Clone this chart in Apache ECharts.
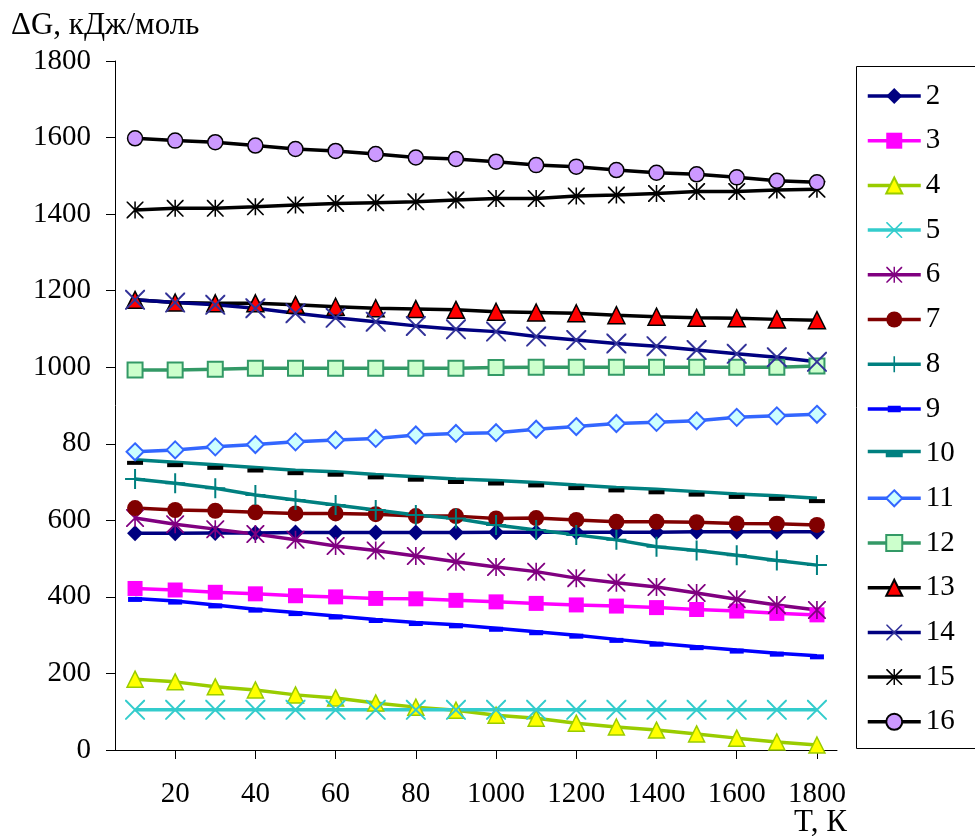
<!DOCTYPE html>
<html>
<head>
<meta charset="utf-8">
<script src="https://cdn.jsdelivr.net/npm/echarts@6/dist/echarts.min.js"></script>
<style>html,body{margin:0;padding:0;background:#fff}#c{width:975px;height:836px}</style>
</head>
<body>
<div id="c"></div>
<script>
// ---- data ----
var categories = [100,200,300,400,500,600,700,800,900,1000,1100,1200,1300,1400,1500,1600,1700,1800];
var xTickLabels = ['','20','','40','','60','','80','','1000','','1200','','1400','','1600','','1800'];
var yTickLabels = ['0','200','400','600','80','1000','1200','1400','1600','1800'];
var seriesNames = ['2','3','4','5','6','7','8','9','10','11','12','13','14','15','16'];

var s2  = [566,566,567,567,568,568,568,568,568,569,569,569,569,569,570,570,570,570];
var s3  = [422,418,412,408,403,400,396,395,391,387,383,379,376,372,367,363,357,353];
var s4  = [185,178,165,157,144,136,123,112,104,91,83,70,60,52,42,31,21,13];
var s5  = [105,105,105,105,105,105,105,105,105,105,105,105,105,105,105,105,105,105];
var s6  = [606,590,577,564,549,533,521,507,492,478,466,449,437,426,410,394,379,366];
var s7  = [632,627,625,621,618,618,616,611,611,605,606,601,596,596,595,592,591,588];
var s8  = [708,697,684,666,653,640,627,614,605,588,575,562,549,531,521,509,495,483];
var s9  = [396,389,379,368,359,350,341,333,327,318,309,300,289,279,270,261,253,246];
var s10 = [758,752,745,738,731,727,720,714,708,704,699,692,686,681,675,669,664,658];
var s11 = [779,784,792,798,805,810,814,823,827,829,838,845,853,856,860,869,873,877];
var s12 = [993,993,995,997,997,997,997,997,997,999,1000,1000,1000,1000,1000,1000,1000,1003];
var s13 = [1176,1169,1167,1167,1163,1158,1154,1152,1150,1145,1143,1141,1136,1132,1129,1128,1125,1123];
var s14 = [1176,1169,1163,1154,1141,1129,1119,1108,1099,1093,1080,1071,1062,1055,1045,1035,1026,1014];
var s15 = [1411,1415,1415,1419,1424,1428,1430,1432,1437,1441,1441,1447,1450,1454,1459,1459,1463,1465];
var s16 = [1598,1592,1588,1579,1570,1565,1557,1548,1544,1537,1528,1524,1515,1508,1504,1496,1487,1483];

// ---- styles ----
var FONT = '"Liberation Serif","Times New Roman",serif';
var FS = 29;
var FT = 31;
var LW = 3.5;
var XCROSS = 'path://M0,0L7,0L100,93L100,100L93,100L0,7Z M100,0L100,7L7,100L0,100L0,93L93,0Z';
var ASTER = 'path://M0,0L7,0L100,93L100,100L93,100L0,7Z M100,0L100,7L7,100L0,100L0,93L93,0Z M45.5,0L54.5,0L54.5,100L45.5,100Z';
var PLUS = 'path://M45,0L55,0L55,45L100,45L100,55L55,55L55,100L45,100L45,55L0,55L0,45L45,45Z';
var ICON9 = 'path://M0,1.5L53,1.5L53,5L0,5Z M20,0L33,0L33,6.5L20,6.5Z';
var ICON10 = 'path://M0,0L53,0L53,3.5L0,3.5Z M18,3L35,3L35,7.5L18,7.5Z';

function mk(name, data, line, sym, size, fill, border, bw, offset) {
  return {
    name: name, type: 'line', data: data,
    symbol: sym, symbolSize: size, symbolOffset: offset || [0,0],
    showSymbol: true,
    lineStyle: {color: line, width: LW},
    itemStyle: {color: fill, borderColor: border || fill, borderWidth: bw || 0},
    emphasis: {disabled: true},
    animation: false
  };
}

var series = [
  mk('2', s2, '#000080', 'diamond', 16, '#000080'),
  mk('3', s3, '#FF00FF', 'rect', 15, '#FF00FF'),
  mk('4', s4, '#99CC00', 'triangle', 16, '#FFFF00', '#99CC00', 1.5),
  mk('5', s5, '#33CCCC', XCROSS, 20, '#33CCCC'),
  mk('6', s6, '#800080', ASTER, 18, '#800080'),
  mk('7', s7, '#800000', 'circle', 16, '#800000'),
  mk('8', s8, '#008080', PLUS, 20, '#008080'),
  mk('9', s9, '#0000FF', 'rect', [14,5], '#0000FF', null, 0, [0,1]),
  mk('10', s10, '#008080', 'rect', [16,4], '#000000', null, 0, [0,3]),
  mk('11', s11, '#3366FF', 'diamond', 17, '#CCFFFF', '#3366FF', 2),
  mk('12', s12, '#339966', 'rect', 15, '#CCFFCC', '#339966', 2),
  mk('13', s13, '#000000', 'triangle', 17, '#FF0000', '#000000', 1.5),
  mk('14', s14, '#000080', XCROSS, 20, '#333399'),
  mk('15', s15, '#000000', ASTER, 17, '#000000'),
  mk('16', s16, '#000000', 'circle', 15, '#CC99FF', '#000000', 1.5)
];

var legendData = seriesNames.map(function (n) {
  if (n === '9') return {name: n, icon: ICON9};
  if (n === '10') return {name: n, icon: ICON10, itemStyle: {color: '#008080'}};
  return {name: n};
});

var chart = echarts.init(document.getElementById('c'), null, {renderer: 'canvas'});
chart.setOption({
  backgroundColor: '#ffffff',
  animation: false,
  grid: {left: 115, top: 61, right: 138, bottom: 86, containLabel: false},
  xAxis: {
    type: 'category', data: categories, boundaryGap: true,
    axisLine: {lineStyle: {color: '#000', width: 1}},
    axisTick: {show: true, alignWithLabel: true, length: 9, lineStyle: {color: '#000'},
      interval: function (i) { return i % 2 === 1; }},
    axisLabel: {interval: 0, margin: 30, color: '#000', fontFamily: FONT, fontSize: FS,
      formatter: function (v, i) { return xTickLabels[i]; }},
    splitLine: {show: false}
  },
  yAxis: {
    type: 'value', min: 0, max: 1800, interval: 200,
    axisLine: {show: true, lineStyle: {color: '#000', width: 1}},
    axisTick: {show: true, length: 9, lineStyle: {color: '#000'}},
    axisLabel: {margin: 24, color: '#000', fontFamily: FONT, fontSize: FS,
      formatter: function (v) { return yTickLabels[Math.round(v / 200)]; }},
    splitLine: {show: false}
  },
  legend: {
    orient: 'vertical', left: 866, top: 81, padding: 0,
    itemWidth: 53, itemHeight: 20, itemGap: 14.7,
    lineStyle: {width: LW},
    textStyle: {fontFamily: FONT, fontSize: FS, color: '#000', lineHeight: 30},
    data: legendData,
    selectedMode: false
  },
  graphic: [
    {type: 'rect', shape: {x: 856.5, y: 66.5, width: 150, height: 682}, style: {fill: 'none', stroke: '#000', lineWidth: 1}, silent: true, z: -1},
    {type: 'text', left: 11, top: 10, style: {text: 'ΔG, кДж/моль', font: FT + 'px ' + FONT, fill: '#000'}},
    {type: 'text', left: 794, top: 807, style: {text: 'T, К', font: FT + 'px ' + FONT, fill: '#000'}}
  ],
  series: series
});
</script>
</body>
</html>
